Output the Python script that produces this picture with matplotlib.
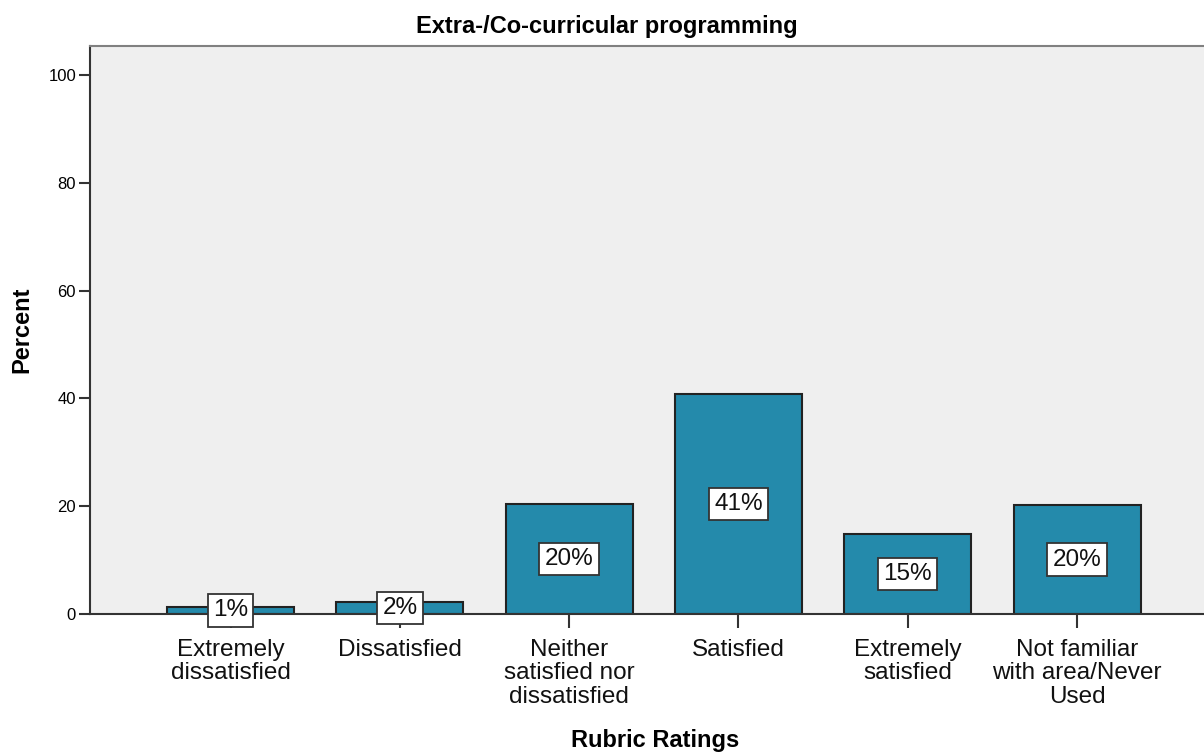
import matplotlib
matplotlib.use("Agg")
import matplotlib.pyplot as plt
import numpy as np

CATEGORIES = ["Extremely\ndissatisfied", "Dissatisfied",
              "Neither\nsatisfied nor\ndissatisfied", "Satisfied",
              "Extremely\nsatisfied", "Not familiar\nwith area/Never\nUsed"]
PERCENT = [1.3, 2.2, 20.4, 40.8, 14.8, 20.2]
LABELS = ["1%", "2%", "20%", "41%", "15%", "20%"]
YTICKS = [0, 20, 40, 60, 80, 100]

BAR = "#248AAB"
BG = "#EFEFEF"

plt.rcParams["font.family"] = ["Liberation Sans", "DejaVu Sans"]

fig = plt.figure(figsize=(12.04, 7.54), dpi=100)
ax = fig.add_axes([90 / 1204, (754 - 614) / 754, 1 - 90 / 1204, (614 - 46) / 754])
ax.set_facecolor(BG)

x = np.arange(len(CATEGORIES))
ax.bar(x, PERCENT, width=0.75, color=BAR, edgecolor="#222222", linewidth=1.5, zorder=2)
for xi, v, lab in zip(x, PERCENT, LABELS):
    ax.text(xi, v / 2, lab, ha="center", va="center", fontsize=17.5, zorder=4, color="#111111",
            bbox=dict(boxstyle="square,pad=0.22", fc="white", ec="#333333", lw=1.3))

ax.set_xlim(-0.83, 5.75)
ax.set_ylim(0, 105.4)
ax.set_yticks(YTICKS)
ax.set_yticklabels([str(t) for t in YTICKS], fontsize=12)
ax.set_xticks(x)
ax.set_xticklabels(CATEGORIES, fontsize=17.5, linespacing=1.08, color="#111111")
ax.tick_params(axis="y", length=8, width=1.5, color="#333333", pad=2)
ax.tick_params(axis="x", length=10, width=1.5, color="#333333", pad=8)

ax.spines["right"].set_visible(False)
ax.spines["top"].set_color("#808080")
ax.spines["top"].set_linewidth(1.5)
ax.spines["left"].set_color("#333333")
ax.spines["left"].set_linewidth(1.5)
ax.spines["bottom"].set_color("#333333")
ax.spines["bottom"].set_linewidth(1.5)

fig.text(607 / 1204, 1 - 27 / 754, "Extra-/Co-curricular programming", ha="center", va="center",
         fontsize=17, fontweight="bold")
fig.text(22 / 1204, 1 - 330 / 754, "Percent", rotation=90, ha="center", va="center",
         fontsize=17, fontweight="bold")
fig.text(655 / 1204, 1 - 740 / 754, "Rubric Ratings", ha="center", va="center",
         fontsize=17, fontweight="bold")

fig.savefig("out.png", dpi=100)
